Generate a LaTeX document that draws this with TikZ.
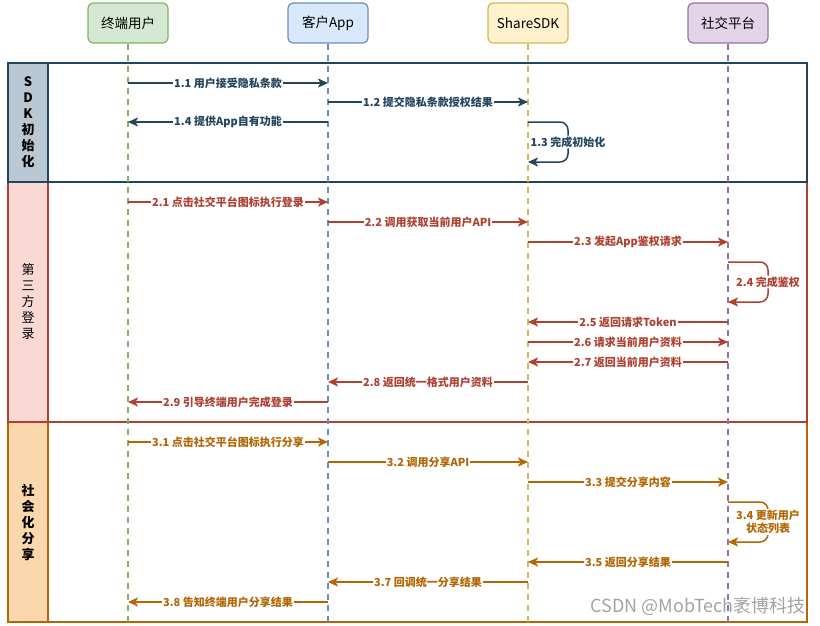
\documentclass[tikz,border=0pt]{standalone}
\usepackage{fontspec}
\setmainfont{Noto Sans CJK SC}
\usetikzlibrary{arrows.meta}
\definecolor{cA}{HTML}{23445D}\definecolor{fA}{HTML}{BAC8D3}
\definecolor{cB}{HTML}{AE4132}\definecolor{fB}{HTML}{FAD9D5}
\definecolor{cC}{HTML}{B46504}\definecolor{fC}{HTML}{FAD7AC}
\definecolor{gS}{HTML}{82B366}\definecolor{gF}{HTML}{D5E8D4}
\definecolor{bS}{HTML}{6C8EBF}\definecolor{bF}{HTML}{DAE8FC}
\definecolor{yS}{HTML}{D6B656}\definecolor{yF}{HTML}{FFF2CC}
\definecolor{pS}{HTML}{9673A6}\definecolor{pF}{HTML}{E1D5E7}
\begin{document}
\begin{tikzpicture}[x=1pt,y=-1pt,
  hdr/.style 2 args={draw=#1, fill=#2, line width=1.2pt, rounded corners=5pt,
    minimum width=80pt, minimum height=40pt, font=\fontsize{13.5}{15}\selectfont},
  life/.style={draw=#1, line width=1.3pt, dash pattern=on 6pt off 5pt},
  frame/.style={draw=#1, line width=2pt, minimum width=799pt, inner sep=0pt},
  lane/.style 2 args={draw=#1, fill=#2, line width=2pt, minimum width=40pt, inner sep=0pt,
    align=center, font=\fontsize{13}{16}\selectfont},
  lanebold/.style={font=\bfseries\fontsize{13}{16}\selectfont},
  msg/.style={draw=#1, line width=1.5pt, -{Stealth[length=10pt,width=9pt,inset=2.5pt]}},
  loopmsg/.style={msg=#1, rounded corners=8pt},
  lbl/.style={fill=white, inner sep=1pt, text=#1, align=center,
    font=\bfseries\fontsize{11}{13}\selectfont},
]
\useasboundingbox (0,0) rectangle (820,625);
\fill[white] (0,0) rectangle (820,625);

% swimlanes (drawn bottom first)
\node[frame=cC, minimum height=200pt] (s3) at (407.5,522) {};
\node[lane={cC}{fC}, lanebold, minimum height=200pt] (l3) at (28,522) {社\\会\\化\\分\\享};
\node[frame=cB, minimum height=240pt] (s2) at (407.5,302) {};
\node[lane={cB}{fB}, minimum height=240pt] (l2) at (28,302) {第\\三\\方\\登\\录};
\node[frame=cA, minimum height=119pt] (s1) at (407.5,122.5) {};
\node[lane={cA}{fA}, lanebold, minimum height=119pt] (l1) at (28,122.5) {S\\D\\K\\初\\始\\化};

% actors
\node[hdr={gS}{gF}] (U) at (128,23) {终端用户};
\node[hdr={bS}{bF}] (A) at (328,23) {客户App};
\node[hdr={yS}{yF}] (S) at (528,23) {ShareSDK};
\node[hdr={pS}{pF}] (P) at (728,23) {社交平台};

\coordinate (Ue) at (128,622);
\coordinate (Ae) at (328,622);
\coordinate (Se) at (528,622);
\coordinate (Pe) at (728,622);
\draw[life=gS] (U.south) -- (Ue);
\draw[life=bS] (A.south) -- (Ae);
\draw[life=yS] (S.south) -- (Se);
\draw[life=pS] (P.south) -- (Pe);

% section 1
\draw[msg=cA] (U.south|-0,83) -- node[lbl=cA]{1.1 用户接受隐私条款} (A.south|-0,83);
\draw[msg=cA] (A.south|-0,102) -- node[lbl=cA]{1.2 提交隐私条款授权结果} (S.south|-0,102);
\draw[msg=cA] (A.south|-0,122) -- node[lbl=cA]{1.4 提供App自有功能} (U.south|-0,122);
\draw[loopmsg=cA] (S.south|-0,122) -- ++(40,0) -- ++(0,40) node[midway,lbl=cA]{1.3 完成初始化} -- ++(-40,0);

% section 2
\draw[msg=cB] (U.south|-0,202) -- node[lbl=cB]{2.1 点击社交平台图标执行登录} (A.south|-0,202);
\draw[msg=cB] (A.south|-0,222) -- node[lbl=cB]{2.2 调用获取当前用户API} (S.south|-0,222);
\draw[msg=cB] (S.south|-0,242) -- node[lbl=cB]{2.3 发起App鉴权请求} (P.south|-0,242);
\draw[loopmsg=cB] (P.south|-0,262) -- ++(40,0) -- ++(0,40) node[midway,lbl=cB]{2.4 完成鉴权} -- ++(-40,0);
\draw[msg=cB] (P.south|-0,322) -- node[lbl=cB]{2.5 返回请求Token} (S.south|-0,322);
\draw[msg=cB] (S.south|-0,342) -- node[lbl=cB]{2.6 请求当前用户资料} (P.south|-0,342);
\draw[msg=cB] (P.south|-0,362) -- node[lbl=cB]{2.7 返回当前用户资料} (S.south|-0,362);
\draw[msg=cB] (S.south|-0,382) -- node[lbl=cB]{2.8 返回统一格式用户资料} (A.south|-0,382);
\draw[msg=cB] (A.south|-0,402) -- node[lbl=cB]{2.9 引导终端用户完成登录} (U.south|-0,402);

% section 3
\draw[msg=cC] (U.south|-0,442) -- node[lbl=cC]{3.1 点击社交平台图标执行分享} (A.south|-0,442);
\draw[msg=cC] (A.south|-0,462) -- node[lbl=cC]{3.2 调用分享API} (S.south|-0,462);
\draw[msg=cC] (S.south|-0,482) -- node[lbl=cC]{3.3 提交分享内容} (P.south|-0,482);
\draw[loopmsg=cC] (P.south|-0,502) -- ++(40,0) -- ++(0,40) node[midway,lbl=cC]{3.4 更新用户\\状态列表} -- ++(-40,0);
\draw[msg=cC] (P.south|-0,562) -- node[lbl=cC]{3.5 返回分享结果} (S.south|-0,562);
\draw[msg=cC] (S.south|-0,582) -- node[lbl=cC]{3.7 回调统一分享结果} (A.south|-0,582);
\draw[msg=cC] (A.south|-0,602) -- node[lbl=cC]{3.8 告知终端用户分享结果} (U.south|-0,602);

% watermark
\node[anchor=east, text=black!45, opacity=0.8, inner sep=0pt, font=\fontsize{18}{20}\selectfont] (wm) at (806,606) {CSDN @MobTech袤博科技};
\end{tikzpicture}
\end{document}
